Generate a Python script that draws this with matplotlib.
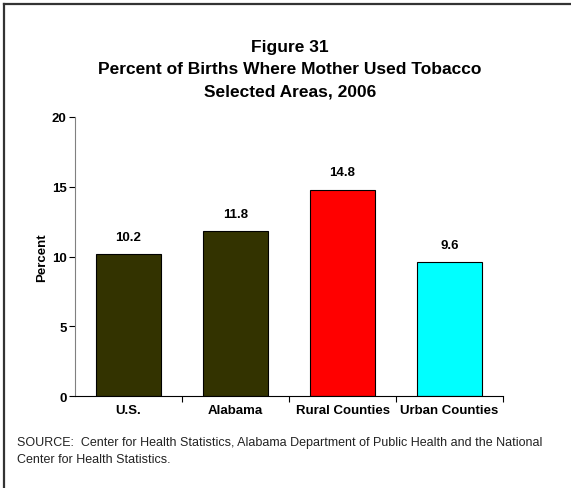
import matplotlib.pyplot as plt
from matplotlib.lines import Line2D

# Data
categories = ['U.S.', 'Alabama', 'Rural Counties', 'Urban Counties']
percents = [10.2, 11.8, 14.8, 9.6]
bar_colors = ['#333300', '#333300', '#FF0000', '#00FFFF']
y_ticks = [0, 5, 10, 15, 20]

plt.rcParams['font.family'] = ['Liberation Sans', 'DejaVu Sans']

fig = plt.figure(figsize=(5.71, 4.89), dpi=100)
ax = fig.add_axes([0.1313, 0.188, 0.7497, 0.5707])

x = list(range(len(categories)))
bars = ax.bar(x, percents, width=0.6, color=bar_colors,
              edgecolor='black', linewidth=0.8, zorder=2)

for rect, val in zip(bars, percents):
    ax.annotate(f'{val:.1f}', (rect.get_x() + rect.get_width() / 2, val),
                xytext=(0, 8), textcoords='offset points',
                ha='center', va='bottom', fontsize=9.5, fontweight='bold')

ax.set_xlim(-0.5, len(categories) - 0.5)
ax.set_ylim(0, 20)
ax.set_yticks(y_ticks)
ax.set_yticklabels([str(t) for t in y_ticks], fontsize=9.5, fontweight='bold')

# category labels sit between the boundary tick marks
ax.set_xticks([i + 0.5 for i in range(len(categories))])
ax.set_xticklabels([])
ax.set_xticks(x, minor=True)
ax.set_xticklabels(categories, minor=True, fontsize=9.5, fontweight='bold')
ax.tick_params(axis='x', which='minor', length=0, pad=6)
ax.tick_params(axis='x', which='major', length=4, width=0.8, color='black')
ax.tick_params(axis='y', length=4, width=0.8, pad=2)

for side in ['top', 'right']:
    ax.spines[side].set_visible(False)
ax.spines['left'].set_color('#808080')
ax.spines['bottom'].set_color('black')

ax.set_ylabel('Percent', fontsize=9.5, fontweight='bold', labelpad=3)

fig.text(0.508, 0.918, 'Figure 31\nPercent of Births Where Mother Used Tobacco\nSelected Areas, 2006',
         ha='center', va='top', fontsize=12.5, fontweight='bold', linespacing=1.6)

fig.text(0.03, 0.077, 'SOURCE:  Center for Health Statistics, Alabama Department of Public Health and the National\n'
         'Center for Health Statistics.', ha='left', va='center', fontsize=9, linespacing=1.5,
         color='#222222')

# frame lines along the top and left edges
fig.add_artist(Line2D([0.007, 1.0], [0.989, 0.989], color='#333333', linewidth=1.6))
fig.add_artist(Line2D([0.007, 0.007], [0.0, 0.989], color='#333333', linewidth=1.6))

plt.savefig('out.png', dpi=100)
